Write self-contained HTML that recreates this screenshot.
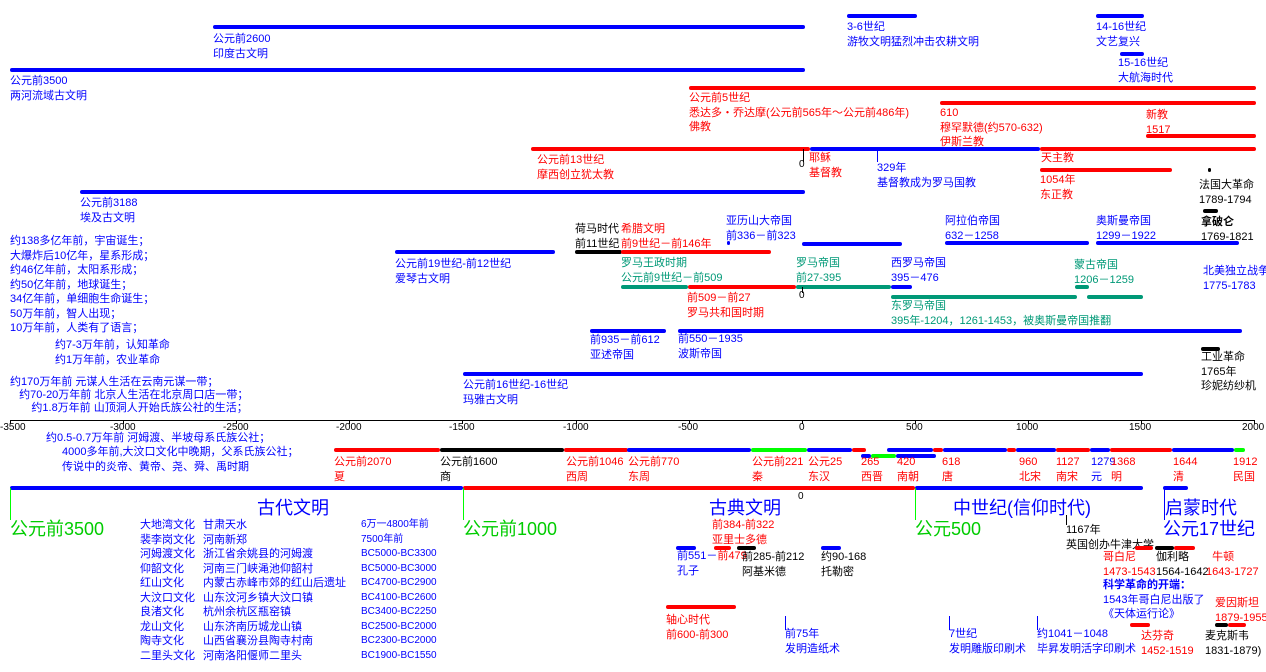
<!DOCTYPE html>
<html><head><meta charset="utf-8"><style>
body{margin:0;width:1266px;height:672px;background:#fff;position:relative;overflow:hidden;font-family:"Liberation Sans","Noto Sans CJK SC",sans-serif;font-size:11px;}
div{position:absolute;white-space:nowrap}
.b{height:4px;border-radius:2px}
.B{background:#0000ff}.R{background:#ff0000}.K{background:#000}.G{background:#00ff00}.T{background:#009977}
.t{line-height:14.5px}
.cb{color:#0000ff}.cr{color:#ff0000}.ck{color:#000}.cg{color:#00cc00}.ct{color:#009977}
.big{font-size:18px;line-height:21px}
.v{width:1px}
</style></head><body>
<div class="b B" style="left:213px;top:25px;width:592px"></div>
<div class="t cb" style="left:213px;top:32px">公元前2600<br>印度古文明</div>
<div class="b B" style="left:847px;top:14px;width:70px"></div>
<div class="t cb" style="left:847px;top:20px">3-6世纪<br>游牧文明猛烈冲击农耕文明</div>
<div class="b B" style="left:1096px;top:14px;width:48px"></div>
<div class="t cb" style="left:1096px;top:20px">14-16世纪<br>文艺复兴</div>
<div class="b B" style="left:1120px;top:52px;width:24px"></div>
<div class="t cb" style="left:1118px;top:56px">15-16世纪<br>大航海时代</div>
<div class="b B" style="left:10px;top:68px;width:795px"></div>
<div class="t cb" style="left:10px;top:74px">公元前3500<br>两河流域古文明</div>
<div class="b R" style="left:689px;top:86px;width:567px"></div>
<div class="t cr" style="left:689px;top:91px">公元前5世纪<br>悉达多・乔达摩(公元前565年～公元前486年)<br>佛教</div>
<div class="b R" style="left:940px;top:101px;width:316px"></div>
<div class="t cr" style="left:940px;top:106px">610<br>穆罕默德(约570-632)<br>伊斯兰教</div>
<div class="t cr" style="left:1146px;top:108px">新教<br>1517</div>
<div class="b R" style="left:1146px;top:134px;width:110px"></div>
<div class="b R" style="left:531px;top:147px;width:279px"></div>
<div class="b B" style="left:810px;top:147px;width:230px"></div>
<div class="b R" style="left:1040px;top:147px;width:216px"></div>
<div class="v K" style="left:803px;top:149px;height:13px"></div>
<div class="ck" style="left:799px;top:159px;font-size:10px">0</div>
<div class="t cr" style="left:809px;top:151px">耶稣<br>基督教</div>
<div class="v B" style="left:877px;top:149px;height:13px"></div>
<div class="t cb" style="left:877px;top:161px">329年<br>基督教成为罗马国教</div>
<div class="t cr" style="left:1041px;top:151px">天主教</div>
<div class="b R" style="left:1040px;top:168px;width:132px"></div>
<div class="t cr" style="left:1040px;top:173px">1054年<br>东正教</div>
<div class="t cr" style="left:537px;top:153px">公元前13世纪<br>摩西创立犹太教</div>
<div class="b B" style="left:80px;top:190px;width:725px"></div>
<div class="t cb" style="left:80px;top:196px">公元前3188<br>埃及古文明</div>
<div class="b K" style="left:1208px;top:168px;width:3px"></div>
<div class="t ck" style="left:1199px;top:178px">法国大革命<br>1789-1794</div>
<div class="b K" style="left:1203px;top:209px;width:15px"></div>
<div class="t ck" style="left:1201px;top:215px"><b>拿破仑</b><br>1769-1821</div>
<div class="t cb" style="left:726px;top:214px">亚历山大帝国<br>前336－前323</div>
<div class="b B" style="left:727px;top:241px;width:3px"></div>
<div class="b B" style="left:802px;top:242px;width:100px"></div>
<div class="t cb" style="left:945px;top:214px">阿拉伯帝国<br>632－1258</div>
<div class="b B" style="left:945px;top:241px;width:144px"></div>
<div class="t cb" style="left:1096px;top:214px">奥斯曼帝国<br>1299－1922</div>
<div class="b B" style="left:1096px;top:241px;width:143px"></div>
<div class="t ck" style="left:575px;top:222px">荷马时代<br>前11世纪</div>
<div class="t cr" style="left:621px;top:222px">希腊文明<br>前9世纪－前146年</div>
<div class="b K" style="left:575px;top:250px;width:47px"></div>
<div class="b R" style="left:621px;top:250px;width:150px"></div>
<div class="b B" style="left:395px;top:250px;width:160px"></div>
<div class="t cb" style="left:395px;top:257px">公元前19世纪-前12世纪<br>爱琴古文明</div>
<div class="t ct" style="left:621px;top:256px">罗马王政时期<br>公元前9世纪－前509</div>
<div class="b T" style="left:621px;top:285px;width:67px"></div>
<div class="b R" style="left:688px;top:285px;width:108px"></div>
<div class="b T" style="left:796px;top:285px;width:95px"></div>
<div class="b B" style="left:891px;top:285px;width:21px"></div>
<div class="t ct" style="left:796px;top:256px">罗马帝国<br>前27-395</div>
<div class="t cb" style="left:891px;top:256px">西罗马帝国<br>395－476</div>
<div class="t cr" style="left:687px;top:291px">前509－前27<br>罗马共和国时期</div>
<div class="v K" style="left:802px;top:287px;height:6px"></div>
<div class="ck" style="left:799px;top:290px;font-size:10px">0</div>
<div class="t ct" style="left:1074px;top:258px">蒙古帝国<br>1206－1259</div>
<div class="b T" style="left:1075px;top:285px;width:14px"></div>
<div class="b T" style="left:891px;top:295px;width:186px"></div>
<div class="b T" style="left:1087px;top:295px;width:56px"></div>
<div class="t ct" style="left:891px;top:299px">东罗马帝国<br>395年-1204，1261-1453，被奥斯曼帝国推翻</div>
<div class="t cb" style="left:1203px;top:264px">北美独立战争<br>1775-1783</div>
<div class="b B" style="left:590px;top:329px;width:76px"></div>
<div class="t cb" style="left:590px;top:333px">前935－前612<br>亚述帝国</div>
<div class="b B" style="left:678px;top:329px;width:564px"></div>
<div class="t cb" style="left:678px;top:332px">前550－1935<br>波斯帝国</div>
<div class="b K" style="left:1201px;top:347px;width:19px"></div>
<div class="t ck" style="left:1201px;top:350px">工业革命<br>1765年<br>珍妮纺纱机</div>
<div class="b B" style="left:463px;top:372px;width:680px"></div>
<div class="t cb" style="left:463px;top:378px">公元前16世纪-16世纪<br>玛雅古文明</div>
<div class="t cb" style="left:10px;top:234px">约138多亿年前，宇宙诞生；<br>大爆炸后10亿年，星系形成；<br>约46亿年前，太阳系形成；<br>约50亿年前，地球诞生；<br>34亿年前，单细胞生命诞生；<br>50万年前，智人出现；<br>10万年前，人类有了语言；</div>
<div class="t cb" style="left:55px;top:338px">约7-3万年前，认知革命<br>约1万年前，农业革命</div>
<div class="cb" style="left:10px;top:376px;line-height:13px">约170万年前 元谋人生活在云南元谋一带；<br>&nbsp;&nbsp;&nbsp;约70-20万年前 北京人生活在北京周口店一带；<br>&nbsp;&nbsp;&nbsp;&nbsp;&nbsp;&nbsp;&nbsp;约1.8万年前 山顶洞人开始氏族公社的生活；</div>
<div style="left:10px;top:420px;width:1244px;height:1px;background:#000"></div>
<div class="v K" style="left:10px;top:420px;height:4px"></div><div class="v K" style="left:123px;top:420px;height:4px"></div><div class="v K" style="left:236px;top:420px;height:4px"></div><div class="v K" style="left:349px;top:420px;height:4px"></div><div class="v K" style="left:462px;top:420px;height:4px"></div><div class="v K" style="left:576px;top:420px;height:4px"></div><div class="v K" style="left:689px;top:420px;height:4px"></div><div class="v K" style="left:802px;top:420px;height:4px"></div><div class="v K" style="left:915px;top:420px;height:4px"></div><div class="v K" style="left:1028px;top:420px;height:4px"></div><div class="v K" style="left:1141px;top:420px;height:4px"></div><div class="v K" style="left:1254px;top:420px;height:4px"></div>
<div style="top:422px;left:0;font-size:10px">-3500</div>
<div style="top:422px;left:110px;font-size:10px">-3000</div>
<div style="top:422px;left:223px;font-size:10px">-2500</div>
<div style="top:422px;left:336px;font-size:10px">-2000</div>
<div style="top:422px;left:449px;font-size:10px">-1500</div>
<div style="top:422px;left:563px;font-size:10px">-1000</div>
<div style="top:422px;left:678px;font-size:10px">-500</div>
<div style="top:422px;left:799px;font-size:10px">0</div>
<div style="top:422px;left:906px;font-size:10px">500</div>
<div style="top:422px;left:1016px;font-size:10px">1000</div>
<div style="top:422px;left:1129px;font-size:10px">1500</div>
<div style="top:422px;left:1242px;font-size:10px">2000</div>
<div class="t cb" style="left:46px;top:431px">约0.5-0.7万年前 河姆渡、半坡母系氏族公社；</div>
<div class="t cb" style="left:62px;top:445px">4000多年前,大汶口文化中晚期，父系氏族公社；<br>传说中的炎帝、黄帝、尧、舜、禹时期</div>
<div class="b R" style="left:334px;top:448px;width:106px"></div>
<div class="b K" style="left:440px;top:448px;width:124px"></div>
<div class="b R" style="left:564px;top:448px;width:64px"></div>
<div class="b B" style="left:627px;top:448px;width:124px"></div>
<div class="b G" style="left:751px;top:448px;width:56px"></div>
<div class="b B" style="left:807px;top:448px;width:45px"></div>
<div class="b R" style="left:852px;top:448px;width:14px"></div>
<div class="b B" style="left:887px;top:448px;width:46px"></div>
<div class="b R" style="left:933px;top:448px;width:10px"></div>
<div class="b B" style="left:943px;top:448px;width:64px"></div>
<div class="b R" style="left:1007px;top:448px;width:9px"></div>
<div class="b B" style="left:1016px;top:448px;width:40px"></div>
<div class="b R" style="left:1056px;top:448px;width:34px"></div>
<div class="b B" style="left:1090px;top:448px;width:20px"></div>
<div class="b R" style="left:1110px;top:448px;width:62px"></div>
<div class="b B" style="left:1172px;top:448px;width:62px"></div>
<div class="b G" style="left:1234px;top:448px;width:11px"></div>
<div class="b B" style="left:861px;top:454px;width:10px"></div>
<div class="b G" style="left:871px;top:454px;width:25px"></div>
<div class="b B" style="left:896px;top:454px;width:40px"></div>
<div class="t cr" style="left:334px;top:455px">公元前2070<br>夏</div>
<div class="t ck" style="left:440px;top:455px">公元前1600<br>商</div>
<div class="t cr" style="left:566px;top:455px">公元前1046<br>西周</div>
<div class="t cr" style="left:628px;top:455px">公元前770<br>东周</div>
<div class="t cr" style="left:752px;top:455px">公元前221<br>秦</div>
<div class="t cr" style="left:808px;top:455px">公元25<br>东汉</div>
<div class="t cr" style="left:861px;top:455px">265<br>西晋</div>
<div class="t cr" style="left:897px;top:455px">420<br>南朝</div>
<div class="t cr" style="left:942px;top:455px">618<br>唐</div>
<div class="t cr" style="left:1019px;top:455px">960<br>北宋</div>
<div class="t cr" style="left:1056px;top:455px">1127<br>南宋</div>
<div class="t cb" style="left:1091px;top:455px">1279<br>元</div>
<div class="t cr" style="left:1111px;top:455px">1368<br>明</div>
<div class="t cr" style="left:1173px;top:455px">1644<br>清</div>
<div class="t cr" style="left:1233px;top:455px">1912<br>民国</div>
<div class="b B" style="left:10px;top:486px;width:453px"></div>
<div class="b R" style="left:463px;top:486px;width:452px"></div>
<div class="b B" style="left:915px;top:486px;width:228px"></div>
<div class="b B" style="left:1163px;top:486px;width:25px"></div>
<div class="v G" style="left:10px;top:488px;height:32px"></div>
<div class="v G" style="left:463px;top:488px;height:32px"></div>
<div class="v G" style="left:915px;top:488px;height:32px"></div>
<div class="v B" style="left:1164px;top:488px;height:32px"></div>
<div class="ck" style="left:798px;top:491px;font-size:10px">0</div>
<div class="big cb" style="left:257px;top:498px">古代文明</div>
<div class="big cg" style="left:10px;top:519px">公元前3500</div>
<div class="big cg" style="left:463px;top:519px">公元前1000</div>
<div class="big cb" style="left:709px;top:498px">古典文明</div>
<div class="big cg" style="left:915px;top:519px">公元500</div>
<div class="big cb" style="left:953px;top:498px">中世纪(信仰时代)</div>
<div class="big cb" style="left:1165px;top:498px">启蒙时代</div>
<div class="big cb" style="left:1163px;top:519px">公元17世纪</div>
<div class="t cr" style="left:712px;top:518px">前384-前322<br>亚里士多德</div>
<div class="v K" style="left:1066px;top:515px;height:10px"></div>
<div class="t ck" style="left:1066px;top:523px">1167年<br>英国创办牛津大学</div>
<div class="b B" style="left:676px;top:546px;width:20px"></div>
<div class="b R" style="left:714px;top:546px;width:17px"></div>
<div class="b K" style="left:737px;top:546px;width:19px"></div>
<div class="b B" style="left:821px;top:546px;width:20px"></div>
<div class="b R" style="left:1135px;top:546px;width:18px"></div>
<div class="b K" style="left:1155px;top:546px;width:19px"></div>
<div class="b R" style="left:1174px;top:546px;width:21px"></div>
<div class="t cb" style="left:677px;top:549px">前551－<span class="cr">前479</span><br>孔子</div>
<div class="t ck" style="left:742px;top:550px">前285-前212<br>阿基米德</div>
<div class="t ck" style="left:821px;top:550px">约90-168<br>托勒密</div>
<div class="t cr" style="left:1103px;top:550px">哥白尼<br>1473-1543</div>
<div class="t ck" style="left:1156px;top:550px">伽利略<br>1564-1642</div>
<div class="t cr" style="left:1206px;top:550px">&nbsp;&nbsp;牛顿<br>1643-1727</div>
<div class="t cb" style="left:1103px;top:578px"><b>科学革命的开端：</b><br>1543年哥白尼出版了<br>《天体运行论》</div>
<div class="t cr" style="left:1215px;top:596px">爱因斯坦<br>1879-1955</div>
<div class="b K" style="left:1215px;top:623px;width:13px"></div>
<div class="b R" style="left:1228px;top:623px;width:18px"></div>
<div class="t ck" style="left:1205px;top:629px">麦克斯韦<br>1831-1879)</div>
<div class="b R" style="left:1130px;top:623px;width:20px"></div>
<div class="t cr" style="left:1141px;top:629px">达芬奇<br>1452-1519</div>
<div class="b R" style="left:666px;top:605px;width:70px"></div>
<div class="t cr" style="left:666px;top:613px">轴心时代<br>前600-前300</div>
<div class="v B" style="left:785px;top:616px;height:14px"></div>
<div class="t cb" style="left:785px;top:627px">前75年<br>发明造纸术</div>
<div class="v B" style="left:949px;top:616px;height:14px"></div>
<div class="t cb" style="left:949px;top:627px">7世纪<br>发明雕版印刷术</div>
<div class="v B" style="left:1037px;top:616px;height:14px"></div>
<div class="t cb" style="left:1037px;top:627px">约1041－1048<br>毕昇发明活字印刷术</div>
<div class="t cb" style="left:140px;top:518px">大地湾文化<br>裴李岗文化<br>河姆渡文化<br>仰韶文化<br>红山文化<br>大汶口文化<br>良渚文化<br>龙山文化<br>陶寺文化<br>二里头文化</div>
<div class="t cb" style="left:203px;top:518px">甘肃天水<br>河南新郑<br>浙江省余姚县的河姆渡<br>河南三门峡渑池仰韶村<br>内蒙古赤峰市郊的红山后遗址<br>山东汶河乡镇大汶口镇<br>杭州余杭区瓶窑镇<br>山东济南历城龙山镇<br>山西省襄汾县陶寺村南<br>河南洛阳偃师二里头</div>
<div class="t cb" style="left:361px;top:518px;font-size:10px">6万一4800年前<br>7500年前<br>BC5000-BC3300<br>BC5000-BC3000<br>BC4700-BC2900<br>BC4100-BC2600<br>BC3400-BC2250<br>BC2500-BC2000<br>BC2300-BC2000<br>BC1900-BC1550</div>
</body></html>
